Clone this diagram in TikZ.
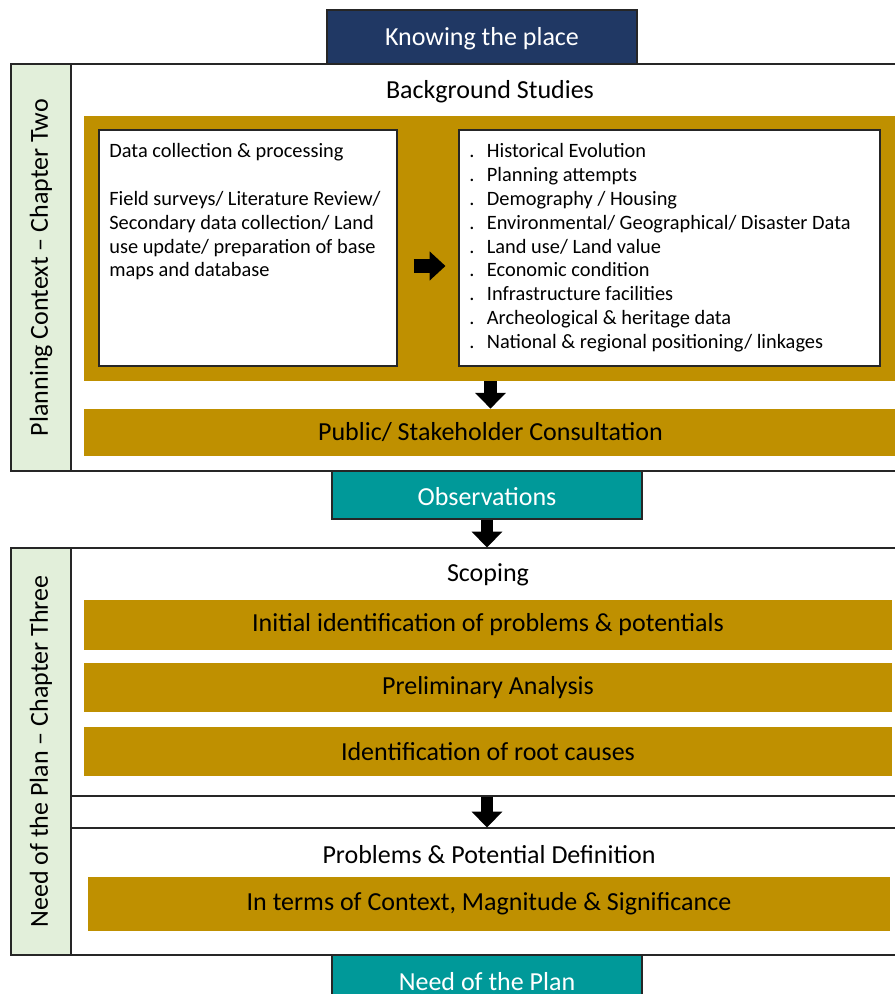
\documentclass[tikz,border=0pt]{standalone}
\usepackage{fontspec}
\setmainfont{Carlito}
\usetikzlibrary{arrows.meta,fit,positioning}

\definecolor{navyhead}{HTML}{203864}
\definecolor{goldbar}{HTML}{BF9000}
\definecolor{tealbox}{HTML}{009999}
\definecolor{stripgreen}{HTML}{E2EFDA}

\tikzset{
  frame/.style={draw=black!85, line width=0.6pt, inner sep=0pt},
  headbox/.style={frame, fill=navyhead},
  outbox/.style={frame, fill=tealbox},
  strip/.style={frame, fill=stripgreen},
  goldbox/.style={fill=goldbar, inner sep=0pt},
  whitebox/.style={frame, fill=white},
  title/.style={font=\headfont, inner sep=0pt},
  whitetitle/.style={title, text=white},
  sidetext/.style={rotate=90, font=\sidefont, inner sep=0pt},
  downarrow/.style={line width=7pt, -{Triangle[width=17pt,length=9pt]}},
  rightarrow/.style={line width=8pt, -{Triangle[width=16pt,length=9pt]}},
}
\newcommand{\headfont}{\fontsize{14.8}{17}\selectfont}
\newcommand{\sidefont}{\fontsize{14.8}{17}\selectfont}
\newcommand{\listfont}{\fontsize{11.6}{13.6}\selectfont}
\newcommand{\dotitem}[1]{\makebox[10pt][l]{.}#1\\}

\begin{document}
\begin{tikzpicture}[x=0.02cm, y=-0.02cm]
\useasboundingbox (0,0) rectangle (895,994);

% Planning context block
\node (ctx) [frame, fit={(11,64) (897,471)}] {};
\node (ctxstrip) [strip, fit={(11,64) (71,471)}] {};
\node [sidetext] at (ctxstrip.center) {Planning Context -- Chapter Two};
\node (place) [headbox, fit={(327,10) (637,64)}] {};
\node [whitetitle] at ([yshift=-0.03cm]place.center) {Knowing the place};
\node (bgtitle) [title] at (490,92) {Background Studies};

% Background studies
\node (gold) [goldbox, fit={(84,116) (897,381)}] {};
\node (collect) [whitebox, fit={(99,130) (397,366)}] {};
\node [anchor=north west, align=left, font=\listfont, inner sep=0pt]
  at (109,143) {Data collection \& processing\\[13.6pt]
  Field surveys/ Literature Review/\\
  Secondary data collection/ Land\\
  use update/ preparation of base\\
  maps and database};
\node (topics) [whitebox, fit={(459,130) (880,366)}] {};
\node [anchor=north west, align=left, font=\listfont, inner sep=0pt] at (469,143) {%
  \dotitem{Historical Evolution}
  \dotitem{Planning attempts}
  \dotitem{Demography / Housing}
  \dotitem{Environmental/ Geographical/ Disaster Data}
  \dotitem{Land use/ Land value}
  \dotitem{Economic condition}
  \dotitem{Infrastructure facilities}
  \dotitem{Archeological \& heritage data}
  \makebox[10pt][l]{.}National \& regional positioning/ linkages};
\draw[rightarrow] ([xshift=0.32cm, yshift=-0.36cm]collect.east)
  -- ([xshift=-0.26cm, yshift=-0.36cm]topics.west);

\node (public) [goldbox, fit={(84,409) (897,456)}] {};
\node [title] at (public.center) {Public/ Stakeholder Consultation};
\draw[downarrow] (gold.south) -- (public.north);

\node (obs) [outbox, fit={(332,471) (642,519)}] {};
\node [whitetitle] at ([yshift=-0.03cm]obs.center) {Observations};

% Need of the plan block
\node (need) [frame, fit={(11,548) (897,955)}] {};
\node (needstrip) [strip, fit={(11,548) (71,955)}] {};
\node [sidetext] at (needstrip.center) {Need of the Plan -- Chapter Three};
\draw[downarrow] (obs.south) -- (obs.south |- need.north);

\node (scope) [frame, fit={(71,548) (897,796)}] {};
\node (scopetitle) [title] at (488,575) {Scoping};
\node (initial) [goldbox, fit={(84,600) (892,650)}] {};
\node [title] at (initial.center) {Initial identification of problems \& potentials};
\node (prelim) [goldbox, fit={(84,663) (892,712)}] {};
\node [title] at (prelim.center) {Preliminary Analysis};
\node (roots) [goldbox, fit={(84,727) (892,776)}] {};
\node [title] at (roots.center) {Identification of root causes};

\node (defn) [frame, fit={(71,828) (897,955)}] {};
\draw[downarrow] (scope.south -| obs.south) -- (defn.north -| obs.south);
\node (defntitle) [title] at (489,855) {Problems \& Potential Definition};
\node (terms) [goldbox, fit={(88,877) (890,931)}] {};
\node [title] at (terms.center) {In terms of Context, Magnitude \& Significance};

\node (plan) [outbox, fit={(332,955) (642,1010)}] {};
\node [whitetitle] at (487,982) {Need of the Plan};
\end{tikzpicture}
\end{document}
